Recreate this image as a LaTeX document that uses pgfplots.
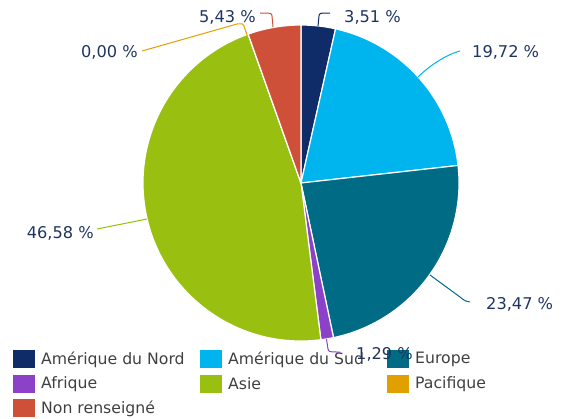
\documentclass[border=0pt]{standalone}
\usepackage{pgfplots}
\pgfplotsset{compat=1.18}
\usepackage{pgfplotstable}
\usepackage{fontspec}
\setmainfont{DejaVu Sans}
\definecolor{cNA}{HTML}{0F2B68}
\definecolor{cSA}{HTML}{00B4EE}
\definecolor{cEU}{HTML}{006B84}
\definecolor{cAF}{HTML}{8B42C6}
\definecolor{cAS}{HTML}{99BF10}
\definecolor{cPA}{HTML}{E0A000}
\definecolor{cNR}{HTML}{CF5039}
\definecolor{lab}{HTML}{1F3560}
\definecolor{leg}{HTML}{404040}
\newcommand\legfont{\fontsize{15.7}{18}\selectfont}
\newcommand\labfont{\fontsize{16.2}{18}\selectfont}
\pgfplotstableread[col sep=semicolon]{
name;value;color
Amérique du Nord;3.51;cNA
Amérique du Sud;19.72;cSA
Europe;23.47;cEU
Afrique;1.29;cAF
Asie;46.58;cAS
Pacifique;0.00;cPA
Non renseigné;5.43;cNR
}\piedata
\begin{document}
\begin{tikzpicture}
\begin{axis}[x=1pt,y=1pt,xmin=0,xmax=562,ymin=0,ymax=418,y dir=reverse,
  hide axis,clip=false]
\path (axis cs:0,0) rectangle (axis cs:562,418);
\gdef\aStart{90}
\pgfplotsinvokeforeach{0,...,6}{%
  \pgfplotstablegetelem{#1}{value}\of\piedata\let\v\pgfplotsretval
  \pgfplotstablegetelem{#1}{color}\of\piedata\let\c\pgfplotsretval
  \pgfplotstablegetelem{#1}{name}\of\piedata\let\n\pgfplotsretval
  \pgfmathsetmacro\aEnd{\aStart-3.6*\v}
  \pgfmathsetmacro\lx{13+187*mod(#1,3)}
  \pgfmathsetmacro\ly{350+24.5*floor(#1/3)}
  \pgfmathsetmacro\lxb{\lx+22}
  \pgfmathsetmacro\lyb{\ly+18}
  \pgfmathsetmacro\tx{\lx+28}
  \pgfmathsetmacro\ty{\ly+9.5}
  \edef\temp{%
    \noexpand\fill[fill=\c, draw=white, line width=1.2pt] (axis cs:301,183) -- ([shift={(\aStart:158pt)}]axis cs:301,183) arc[start angle=\aStart, end angle=\aEnd, radius=158pt] -- cycle;
    \noexpand\fill[fill=\c] (axis cs:\lx,\ly) rectangle (axis cs:\lxb,\lyb);
    \noexpand\node[anchor=west, inner sep=0pt, text=leg, font=\noexpand\legfont] at (axis cs:\tx,\ty) {\n};
  }\temp
  \xdef\aStart{\aEnd}
}
% leader lines
\draw[cNA, line width=1pt] (axis cs:318,26) -- (axis cs:319,16) .. controls (axis cs:319.5,13) .. (axis cs:330,13);
\draw[cSA, line width=1pt] (axis cs:418,77) .. controls (axis cs:428,67) and (axis cs:445,55) .. (axis cs:460,51);
\draw[cEU, line width=1pt] (axis cs:430,275) -- (axis cs:460,297) .. controls (axis cs:465,301) .. (axis cs:470,302);
\draw[cAF, line width=1pt] (axis cs:326.5,339) -- (axis cs:328,349) .. controls (axis cs:329,352) .. (axis cs:340,352);
\draw[cAS, line width=1pt] (axis cs:147,219) -- (axis cs:97,229);
\draw[cPA, line width=1pt] (axis cs:247,35) -- (axis cs:244,26) .. controls (axis cs:243,23.5) .. (axis cs:237,24) -- (axis cs:142,51);
\draw[cNR, line width=1pt] (axis cs:273,27) -- (axis cs:272,16) .. controls (axis cs:271.5,13) .. (axis cs:260,13);
% value labels
\node[anchor=west, inner sep=0pt, text=lab, font=\labfont] at (axis cs:344,17) {3,51 \%};
\node[anchor=west, inner sep=0pt, text=lab, font=\labfont] at (axis cs:472,52) {19,72 \%};
\node[anchor=west, inner sep=0pt, text=lab, font=\labfont] at (axis cs:486,304) {23,47 \%};
\node[anchor=west, inner sep=0pt, text=lab, font=\labfont] at (axis cs:356,354) {1,29 \%};
\node[anchor=east, inner sep=0pt, text=lab, font=\labfont] at (axis cs:94,233) {46,58 \%};
\node[anchor=east, inner sep=0pt, text=lab, font=\labfont] at (axis cs:138,52) {0,00 \%};
\node[anchor=east, inner sep=0pt, text=lab, font=\labfont] at (axis cs:256,17) {5,43 \%};
\end{axis}
\end{tikzpicture}
\end{document}
